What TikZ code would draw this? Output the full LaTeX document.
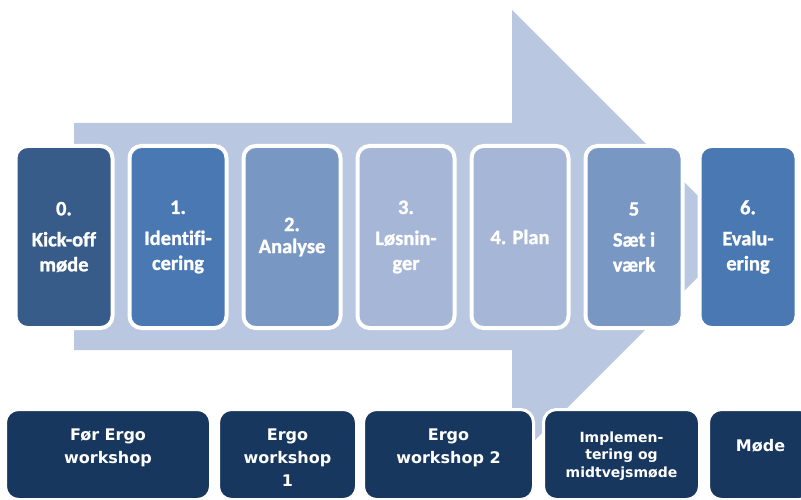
\documentclass[tikz,border=0pt]{standalone}
\usepackage{fontspec}
\setmainfont{Carlito}[BoldFont={Carlito Bold}, BoldFeatures={FakeBold=1.2}, Ligatures=NoCommon]
\newfontfamily\phasefont{DejaVu Sans}[BoldFont={DejaVu Sans Bold}]
\usetikzlibrary{calc}

\definecolor{arrowfill}{HTML}{BAC7E0}
\definecolor{stepdark}{HTML}{385C89}
\definecolor{stepmid}{HTML}{4A78B3}
\definecolor{steplight}{HTML}{7897C3}
\definecolor{steppale}{HTML}{A6B6D6}
\definecolor{phasefill}{HTML}{18375F}

\begin{document}
\begin{tikzpicture}[x=1pt,y=-1pt,
  stepbox/.style={rounded corners=12pt, draw=white, line width=4pt,
    minimum width=97pt, minimum height=182pt, inner sep=0pt,
    align=center, text=white,
    font=\bfseries\fontsize{20.5}{25}\selectfont},
  phasebox/.style={rounded corners=13pt, draw=white, line width=3pt,
    fill=phasefill, minimum height=90pt, inner sep=0pt},
  phasetext/.style={text=white, align=center, inner sep=0pt, anchor=base,
    font=\phasefont\bfseries\fontsize{16}{23}\selectfont},
  phasesmall/.style={phasetext, font=\phasefont\bfseries\fontsize{14}{17.5}\selectfont}
]
\useasboundingbox (0,0) rectangle (801,500);

% broad background arrow
\fill[arrowfill] (74,123) -- (512,123) -- (512,10) -- (738.5,236.5)
  -- (512,463) -- (512,350) -- (74,350) -- cycle;

% process steps
\node[stepbox, fill=stepdark]  (s0) at (64,237)  {0.\\[6pt]Kick-off\\møde};
\node[stepbox, fill=stepmid]   (s1) at (178,237) {1.\\[6pt]Identifi-\\cering};
\node[stepbox, fill=steplight] (s2) at (292,237) {2.\\[-3pt]Analyse};
\node[stepbox, fill=steppale]  (s3) at (406,237) {3.\\[6pt]Løsnin-\\ger};
\node[stepbox, fill=steppale]  (s4) at (520,237) {4. Plan};
\node[stepbox, fill=steplight] (s5) at (634,237) {5\\[6pt]Sæt i\\værk};
\node[stepbox, fill=stepmid]   (s6) at (748,237) {6.\\[6pt]Evalu-\\ering};

% phases underneath
\node[phasebox, minimum width=205pt] (pA) at (108,454.5) {};
\node[phasebox, minimum width=138pt] (pB) at (287.5,454.5) {};
\node[phasebox, minimum width=170pt] (pC) at (448.5,454.5) {};
\node[phasebox, minimum width=156pt] (pD) at (621.5,454.5) {};
\node[phasebox, minimum width=104pt] (pE) at (760.5,454.5) {};

% phase labels, placed by the baseline of their last line
\node[phasetext]  (tA) at (108,463)   {Før Ergo\\workshop};
\node[phasetext]  (tB) at (287.5,486) {Ergo\\workshop\\1};
\node[phasetext]  (tC) at (448.5,463) {Ergo\\workshop 2};
\node[phasesmall] (tD) at (621.5,477) {Implemen-\\tering og\\midtvejsmøde};
\node[phasetext]  (tE) at (760.5,451) {Møde};
\end{tikzpicture}
\end{document}
